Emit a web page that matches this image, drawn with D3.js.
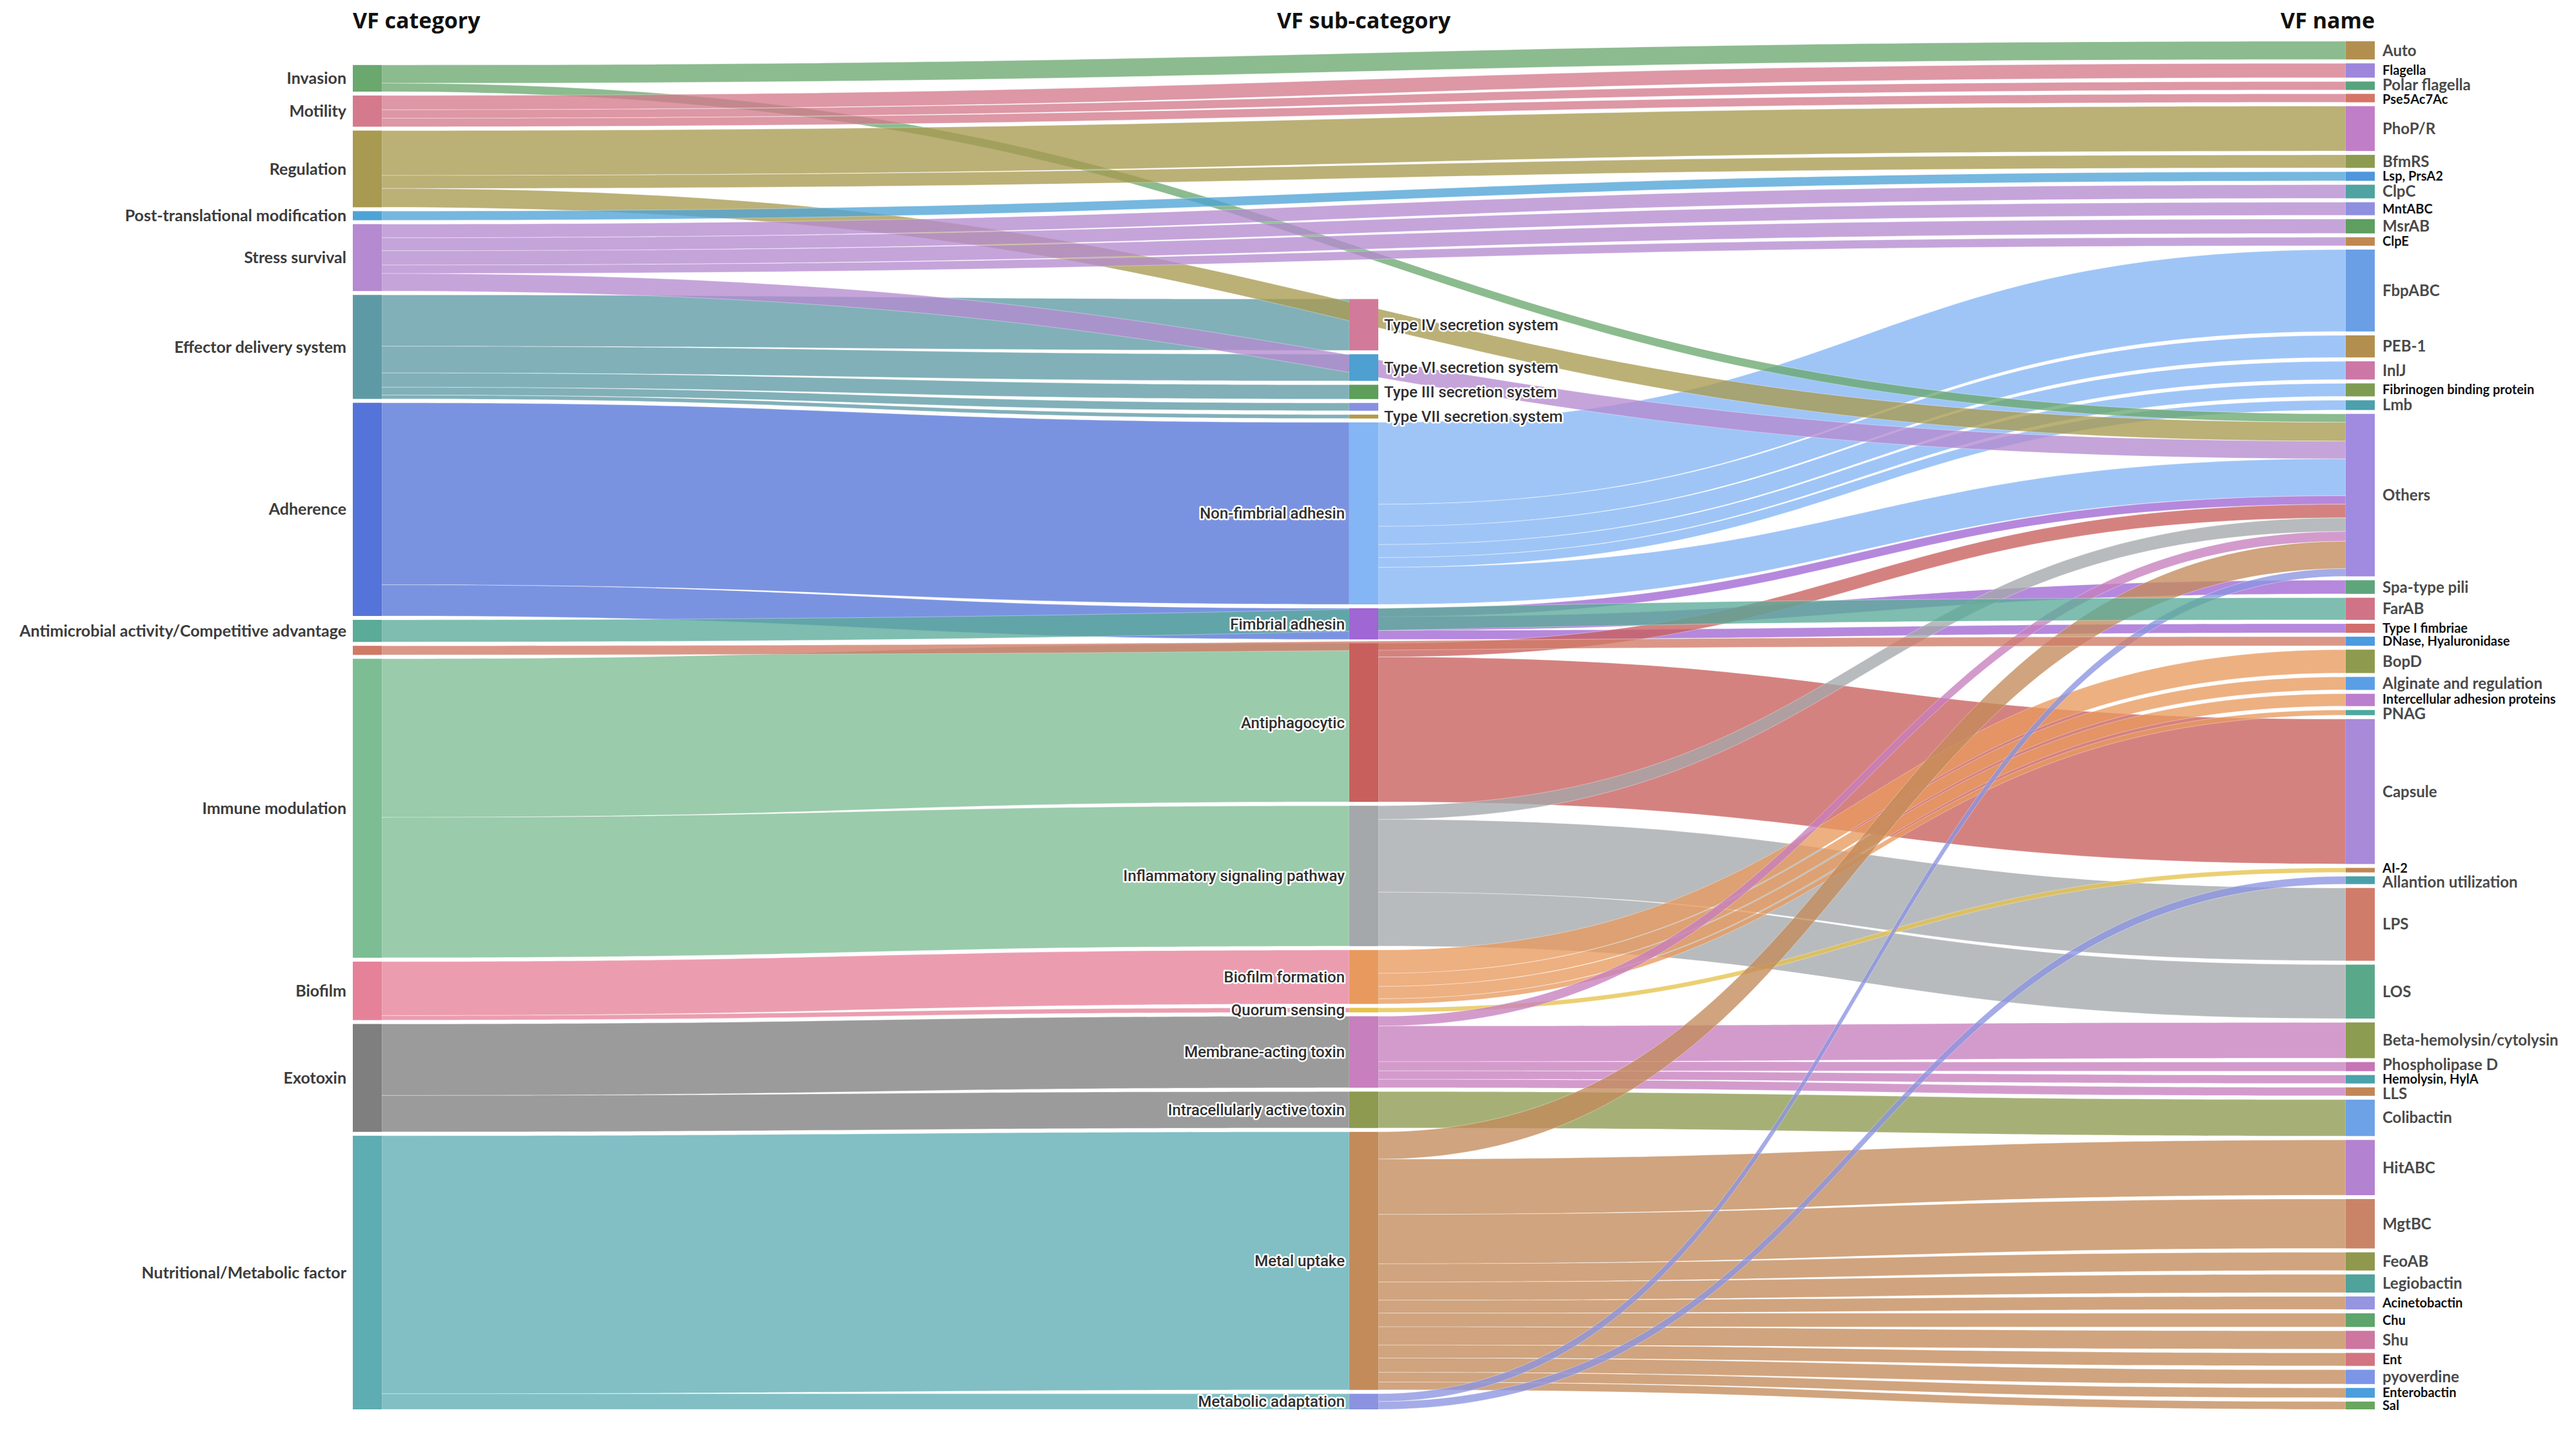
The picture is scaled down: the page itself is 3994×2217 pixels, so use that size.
<!DOCTYPE html>
<html>
<head>
<meta charset="utf-8">
<script src="https://cdn.jsdelivr.net/npm/d3@7"></script>
<style>
  body { margin: 0; background: #fff; }
  svg { display: block; }
</style>
</head>
<body>
<svg id="chart"></svg>
<script>
const W = 3994, H = 2217;

// ---- data ----
const categories = [
  "Invasion", "Motility", "Regulation", "Post-translational modification",
  "Stress survival", "Effector delivery system", "Adherence",
  "Antimicrobial activity/Competitive advantage", "Exoenzyme",
  "Immune modulation", "Biofilm", "Exotoxin", "Nutritional/Metabolic factor"
];
const categoryColors = [
  "#6aa86e", "#d47a8c", "#a89a50", "#4ea3d6", "#b58ad0", "#5e9aa5", "#5574d9",
  "#5aab98", "#d07a66", "#7dbd94", "#e58299", "#7f7f7f", "#5eadb3"
];

const subCategories = [
  "Type IV secretion system", "Type VI secretion system", "Type III secretion system",
  "Other secretion system", "Type VII secretion system", "Non-fimbrial adhesin",
  "Fimbrial adhesin", "Antiphagocytic", "Inflammatory signaling pathway",
  "Biofilm formation", "Quorum sensing", "Membrane-acting toxin",
  "Intracellularly active toxin", "Metal uptake", "Metabolic adaptation"
];
const subCategoryColors = [
  "#d27a9a", "#4da0d0", "#5d9e5a", "#8790e0", "#b39a48", "#84b5f5",
  "#a066d4", "#c85f5c", "#a4a8ab", "#e89a5e", "#e5c14a", "#c77fbe",
  "#8d9a4f", "#c38b5a", "#8b93e0"
];

const vfNames = [
  "Auto", "Flagella", "Polar flagella", "Pse5Ac7Ac", "PhoP/R", "BfmRS", "Lsp, PrsA2",
  "ClpC", "MntABC", "MsrAB", "ClpE", "FbpABC", "PEB-1", "InlJ",
  "Fibrinogen binding protein", "Lmb", "Others", "Spa-type pili", "FarAB",
  "Type I fimbriae", "DNase, Hyaluronidase", "BopD", "Alginate and regulation",
  "Intercellular adhesion proteins", "PNAG", "Capsule", "AI-2", "Allantion utilization",
  "LPS", "LOS", "Beta-hemolysin/cytolysin", "Phospholipase D", "Hemolysin, HylA", "LLS",
  "Colibactin", "HitABC", "MgtBC", "FeoAB", "Legiobactin", "Acinetobactin", "Chu",
  "Shu", "Ent", "pyoverdine", "Enterobactin", "Sal"
];
const vfNameColors = [
  "#b38f4f", "#9d86dc", "#58a37d", "#d47566", "#c07ec8", "#8d9b50", "#4f96dd",
  "#4fa3a0", "#8f8fe0", "#5e9e5f", "#c08850", "#6a9fe6", "#b38f4f", "#cc77a5",
  "#7d9c52", "#4d9fad", "#a08be0", "#5ea57c", "#d07386", "#d16e6e", "#4b9be0",
  "#8e9a4e", "#5a9fe6", "#bb7fcf", "#4ea8a0", "#a88ad8", "#c18656", "#4aa0aa",
  "#d07c6a", "#5aa88a", "#8c9c50", "#c675b5", "#4aa2aa", "#c18656", "#6ea2e6",
  "#b382d0", "#c98468", "#8f984c", "#4fa39a", "#9794e0", "#5fa46c", "#cc76a0",
  "#d27481", "#7c95e6", "#4c9edc", "#6aa65e"
];
const smallNames = [
  "Flagella", "Pse5Ac7Ac", "Lsp, PrsA2", "MntABC", "ClpE", "Fibrinogen binding protein",
  "Type I fimbriae", "DNase, Hyaluronidase", "Intercellular adhesion proteins", "AI-2",
  "Hemolysin, HylA", "Acinetobactin", "Chu", "Ent", "Enterobactin", "Sal"
];
const hiddenLabels = ["Exoenzyme", "Other secretion system"];

// [source, target, value]
const categoryToSub = [
  ["Effector delivery system", "Type IV secretion system", 79],
  ["Effector delivery system", "Type VI secretion system", 41],
  ["Effector delivery system", "Type III secretion system", 22],
  ["Effector delivery system", "Other secretion system", 12],
  ["Effector delivery system", "Type VII secretion system", 6],
  ["Adherence", "Non-fimbrial adhesin", 280],
  ["Adherence", "Fimbrial adhesin", 48],
  ["Immune modulation", "Antiphagocytic", 244],
  ["Immune modulation", "Inflammatory signaling pathway", 216],
  ["Biofilm", "Biofilm formation", 83],
  ["Biofilm", "Quorum sensing", 7],
  ["Exotoxin", "Membrane-acting toxin", 110],
  ["Exotoxin", "Intracellularly active toxin", 56],
  ["Nutritional/Metabolic factor", "Metal uptake", 397],
  ["Nutritional/Metabolic factor", "Metabolic adaptation", 24]
];
const subToName = [
  ["Non-fimbrial adhesin", "FbpABC", 126],
  ["Non-fimbrial adhesin", "PEB-1", 34],
  ["Non-fimbrial adhesin", "InlJ", 28],
  ["Non-fimbrial adhesin", "Fibrinogen binding protein", 20],
  ["Non-fimbrial adhesin", "Lmb", 15],
  ["Non-fimbrial adhesin", "Others", 57],
  ["Fimbrial adhesin", "Others", 13],
  ["Fimbrial adhesin", "Spa-type pili", 21],
  ["Fimbrial adhesin", "Type I fimbriae", 14],
  ["Antiphagocytic", "Others", 21],
  ["Antiphagocytic", "Capsule", 223],
  ["Inflammatory signaling pathway", "Others", 21],
  ["Inflammatory signaling pathway", "LPS", 112],
  ["Inflammatory signaling pathway", "LOS", 83],
  ["Biofilm formation", "BopD", 36],
  ["Biofilm formation", "Alginate and regulation", 20],
  ["Biofilm formation", "Intercellular adhesion proteins", 19],
  ["Biofilm formation", "PNAG", 8],
  ["Quorum sensing", "AI-2", 7],
  ["Membrane-acting toxin", "Others", 15],
  ["Membrane-acting toxin", "Beta-hemolysin/cytolysin", 55],
  ["Membrane-acting toxin", "Phospholipase D", 14],
  ["Membrane-acting toxin", "Hemolysin, HylA", 13],
  ["Membrane-acting toxin", "LLS", 13],
  ["Intracellularly active toxin", "Colibactin", 56],
  ["Metal uptake", "Others", 42],
  ["Metal uptake", "HitABC", 85],
  ["Metal uptake", "MgtBC", 76],
  ["Metal uptake", "FeoAB", 28],
  ["Metal uptake", "Legiobactin", 28],
  ["Metal uptake", "Acinetobactin", 20],
  ["Metal uptake", "Chu", 21],
  ["Metal uptake", "Shu", 28],
  ["Metal uptake", "Ent", 20],
  ["Metal uptake", "pyoverdine", 22],
  ["Metal uptake", "Enterobactin", 15],
  ["Metal uptake", "Sal", 12],
  ["Metabolic adaptation", "Others", 12],
  ["Metabolic adaptation", "Allantion utilization", 12]
];
// categories with no sub-category flow straight to the VF name
const categoryToName = [
  ["Invasion", "Auto", 28],
  ["Invasion", "Others", 13],
  ["Motility", "Flagella", 22],
  ["Motility", "Polar flagella", 13],
  ["Motility", "Pse5Ac7Ac", 13],
  ["Regulation", "PhoP/R", 69],
  ["Regulation", "BfmRS", 20],
  ["Regulation", "Others", 29],
  ["Post-translational modification", "Lsp, PrsA2", 14],
  ["Stress survival", "ClpC", 21],
  ["Stress survival", "MntABC", 20],
  ["Stress survival", "MsrAB", 22],
  ["Stress survival", "ClpE", 13],
  ["Stress survival", "Others", 27],
  ["Antimicrobial activity/Competitive advantage", "FarAB", 34],
  ["Exoenzyme", "DNase, Hyaluronidase", 14]
];
const titles = ["VF category", "VF sub-category", "VF name"];

// ---- layout ----
const nodeW = 45, pad = 6, y0 = 64, y1 = 2185;
const x = d3.scalePoint().domain([0, 1, 2]).range([547, 3637]);

const nodeById = new Map();
function addColumn(names, colors, col) {
  names.forEach((name, i) => nodeById.set(name, {
    id: name, col, color: colors[i], sourceLinks: [], targetLinks: []
  }));
}
addColumn(categories, categoryColors, 0);
addColumn(subCategories, subCategoryColors, 1);
addColumn(vfNames, vfNameColors, 2);
const nodes = Array.from(nodeById.values());

const links = [...categoryToSub, ...subToName, ...categoryToName].map(([s, t, v]) => ({
  source: nodeById.get(s), target: nodeById.get(t), value: v
}));
links.forEach(l => { l.source.sourceLinks.push(l); l.target.targetLinks.push(l); });
nodes.forEach(n => {
  n.value = Math.max(d3.sum(n.sourceLinks, l => l.value), d3.sum(n.targetLinks, l => l.value));
});

const columns = d3.groups(nodes, n => n.col).map(([, c]) => c);
const ky = d3.min(columns, c => (y1 - y0 - (c.length - 1) * pad) / d3.sum(c, n => n.value));
const h = d3.scaleLinear().domain([0, 1]).range([0, ky]);

// stack every column from the bottom edge
columns.forEach(c => {
  let y = y1;
  for (let i = c.length - 1; i >= 0; --i) {
    const n = c[i];
    n.y1 = y;
    n.y0 = y - h(n.value);
    y = n.y0 - pad;
    n.x0 = x(n.col);
    n.x1 = n.x0 + nodeW;
  }
});

nodes.forEach(n => {
  let sy = n.y0;
  n.sourceLinks.sort((a, b) => a.target.y0 - b.target.y0).forEach(l => {
    l.width = h(l.value); l.sy = sy; sy += l.width;
  });
  let ty = n.y0;
  n.targetLinks.sort((a, b) => a.source.y0 - b.source.y0).forEach(l => {
    l.ty = ty; ty += h(l.value);
  });
});

function band(l) {
  const xa = l.source.x1, xb = l.target.x0, xm = (xa + xb) / 2;
  const p = d3.path();
  p.moveTo(xa, l.sy);
  p.bezierCurveTo(xm, l.sy, xm, l.ty, xb, l.ty);
  p.lineTo(xb, l.ty + l.width);
  p.bezierCurveTo(xm, l.ty + l.width, xm, l.sy + l.width, xa, l.sy + l.width);
  p.closePath();
  return p.toString();
}

// ---- draw ----
const svg = d3.select("#chart").attr("width", W).attr("height", H)
  .attr("viewBox", `0 0 ${W} ${H}`);
svg.append("rect").attr("width", W).attr("height", H).attr("fill", "#fff");

svg.append("g").selectAll("path")
  .data(links)
  .join("path")
  .attr("d", band)
  .attr("fill", d => d.source.color)
  .attr("fill-opacity", 0.78)
  .attr("stroke", "#fff")
  .attr("stroke-opacity", 0.35)
  .attr("stroke-width", 1);

svg.append("g").selectAll("rect")
  .data(nodes)
  .join("rect")
  .attr("x", d => d.x0)
  .attr("y", d => d.y0)
  .attr("width", nodeW)
  .attr("height", d => d.y1 - d.y0)
  .attr("fill", d => d.color);

const labelled = nodes.filter(n => !hiddenLabels.includes(n.id));

svg.append("g").selectAll("text")
  .data(labelled.filter(n => n.col === 0))
  .join("text")
  .attr("x", d => d.x0 - 10)
  .attr("y", d => (d.y0 + d.y1) / 2)
  .attr("dy", "0.35em")
  .attr("text-anchor", "end")
  .attr("font-family", "Lato, sans-serif")
  .attr("font-weight", 700)
  .attr("font-size", 25)
  .attr("fill", "#3c3c3c")
  .text(d => d.id);

svg.append("g").selectAll("text")
  .data(labelled.filter(n => n.col === 1))
  .join("text")
  .attr("x", d => d.sourceLinks.length ? d.x0 - 7 : d.x1 + 9)
  .attr("y", d => (d.y0 + d.y1) / 2)
  .attr("dy", "0.35em")
  .attr("text-anchor", d => d.sourceLinks.length ? "end" : "start")
  .attr("font-family", "Roboto, sans-serif")
  .attr("font-weight", 500)
  .attr("font-size", 24)
  .attr("fill", "#2f2f2f")
  .attr("stroke", "#fff")
  .attr("stroke-width", 5)
  .attr("stroke-linejoin", "round")
  .attr("paint-order", "stroke")
  .text(d => d.id);

// right labels: keep centred on their node, nudging apart the tightly packed ones
const fontSize = d => smallNames.includes(d.id) ? 20 : 24;
const right = labelled.filter(n => n.col === 2);
right.forEach(n => { n.ly = (n.y0 + n.y1) / 2; });
for (let k = 0; k < 20; ++k) {
  for (let i = 1; i < right.length; ++i) {
    const a = right[i - 1], b = right[i];
    const need = (fontSize(a) + fontSize(b)) / 2 * 1.02;
    const gap = b.ly - a.ly;
    if (gap < need) { a.ly -= (need - gap) / 2; b.ly += (need - gap) / 2; }
  }
}

svg.append("g").selectAll("text")
  .data(right)
  .join("text")
  .attr("x", d => d.x1 + 12)
  .attr("y", d => d.ly)
  .attr("dy", "0.35em")
  .attr("font-family", "Lato, sans-serif")
  .attr("font-weight", 700)
  .attr("font-size", fontSize)
  .attr("fill", d => smallNames.includes(d.id) ? "#111" : "#4a4a4a")
  .text(d => d.id);

svg.append("g").selectAll("text")
  .data(titles)
  .join("text")
  .attr("x", (d, i) => i === 0 ? x(0) : i === 1 ? x(1) + nodeW / 2 : x(2) + nodeW)
  .attr("y", 44)
  .attr("text-anchor", (d, i) => ["start", "middle", "end"][i])
  .attr("font-family", "'Open Sans', sans-serif")
  .attr("font-weight", 700)
  .attr("font-size", 34)
  .attr("fill", "#111")
  .text(d => d);
</script>
</body>
</html>
